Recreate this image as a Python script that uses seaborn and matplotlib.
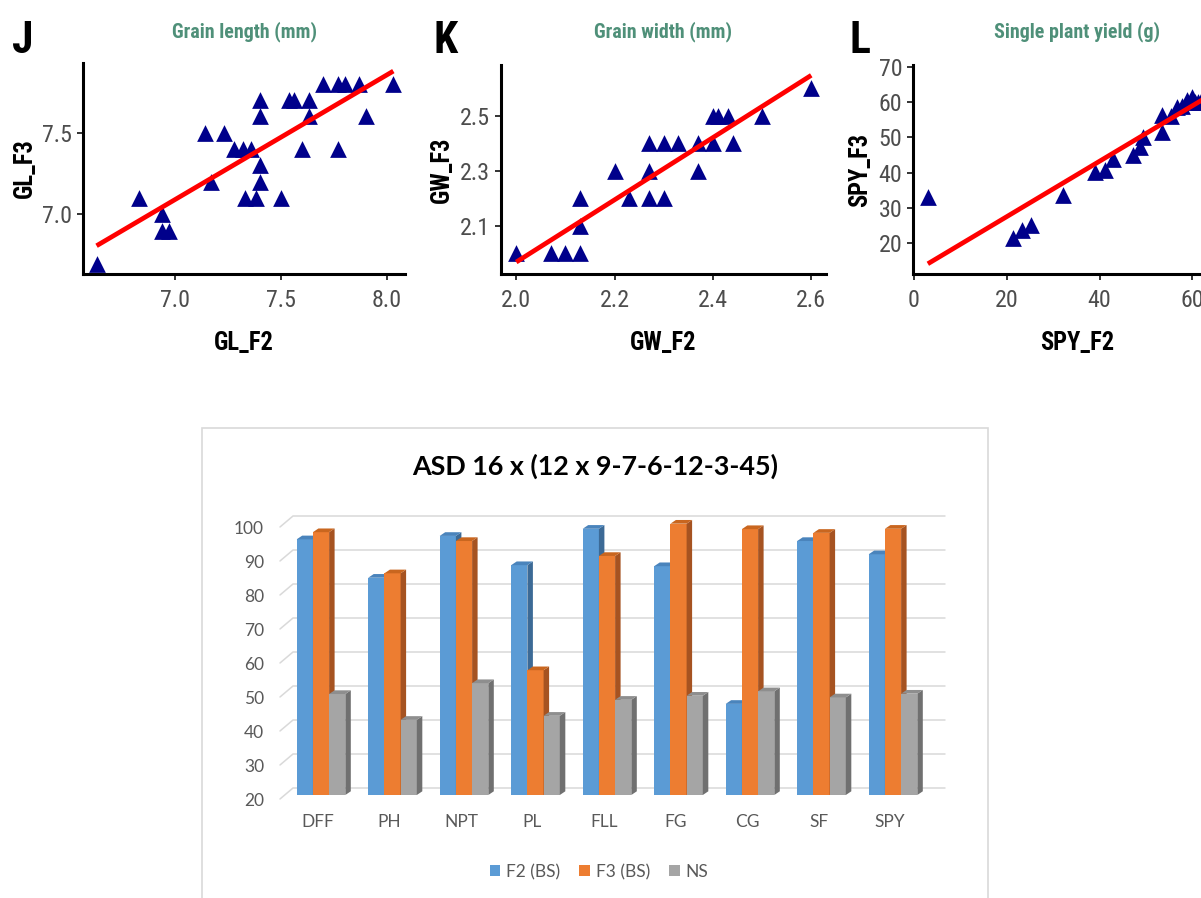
import numpy as np
import pandas as pd
import matplotlib
matplotlib.use("Agg")
import matplotlib.pyplot as plt
import seaborn as sns
from matplotlib import font_manager
from matplotlib.patches import Polygon, Rectangle
from matplotlib.transforms import ScaledTranslation

# ---------------- data ----------------
gl_f2 = [6.63, 6.83, 6.94, 6.94, 6.97, 7.14, 7.23, 7.17, 7.28, 7.32, 7.36, 7.33, 7.38, 7.40, 7.40,
         7.40, 7.40, 7.50, 7.54, 7.56, 7.63, 7.63, 7.60, 7.70, 7.77, 7.80, 7.87, 7.90, 7.77, 8.03]
gl_f3 = [6.7, 7.1, 7.0, 6.9, 6.9, 7.5, 7.5, 7.2, 7.4, 7.4, 7.4, 7.1, 7.1, 7.7, 7.6,
         7.3, 7.2, 7.1, 7.7, 7.7, 7.7, 7.6, 7.4, 7.8, 7.8, 7.8, 7.8, 7.6, 7.4, 7.8]

gw_f2 = [2.00, 2.07, 2.10, 2.13, 2.13, 2.13, 2.20, 2.23, 2.27, 2.27, 2.27, 2.30, 2.30, 2.33,
         2.37, 2.37, 2.40, 2.41, 2.43, 2.40, 2.44, 2.50, 2.60]
gw_f3 = [2.0, 2.0, 2.0, 2.0, 2.2, 2.1, 2.3, 2.2, 2.3, 2.4, 2.2, 2.4, 2.2, 2.4,
         2.4, 2.3, 2.5, 2.5, 2.5, 2.4, 2.4, 2.5, 2.6]

spy_f2 = [3.0, 21.4, 23.2, 25.3, 32.2, 39.0, 41.2, 43.0, 47.3, 48.7, 49.4, 53.4, 53.4, 55.5,
          56.6, 57.7, 58.8, 59.9, 60.6, 61.3, 63.0, 64.5, 66.0, 67.5]
spy_f3 = [33.0, 21.4, 23.8, 25.2, 33.7, 40.3, 40.8, 44.0, 45.0, 47.4, 50.2, 51.6, 56.3, 56.0,
          58.7, 59.0, 60.6, 61.5, 60.0, 60.0, 63.2, 64.4, 65.6, 66.8]

gl_xticks = [7.0, 7.5, 8.0]
gl_xlabels = ["7.0", "7.5", "8.0"]
gl_yticks = [7.0, 7.5]
gl_ylabels = ["7.0", "7.5"]
gw_xticks = [2.0, 2.2, 2.4, 2.6]
gw_xlabels = ["2.0", "2.2", "2.4", "2.6"]
gw_yticks = [2.1, 2.3, 2.5]
gw_ylabels = ["2.1", "2.3", "2.5"]
spy_xticks = [0, 20, 40, 60]
spy_xlabels = ["0", "20", "40", "60"]
spy_yticks = [20, 30, 40, 50, 60, 70]
spy_ylabels = ["20", "30", "40", "50", "60", "70"]

traits = ["DFF", "PH", "NPT", "PL", "FLL", "FG", "CG", "SF", "SPY"]
f2_bs = [95.2, 83.9, 96.2, 87.6, 98.3, 87.3, 46.8, 94.7, 90.8]
f3_bs = [97.3, 85.2, 94.7, 56.7, 90.3, 99.8, 98.2, 97.1, 98.3]
ns = [49.7, 42.1, 52.9, 43.3, 48.0, 49.2, 50.5, 48.7, 49.8]
series_names = ["F2 (BS)", "F3 (BS)", "NS"]
bar_yticks = [20, 30, 40, 50, 60, 70, 80, 90, 100]
bar_title = "ASD 16 x (12 x 9-7-6-12-3-45)"

# ---------------- fonts ----------------
sns.set_style("white")
entries = font_manager.fontManager.ttflist
names = {f.name for f in entries}
NARROW, STRETCH, CONDENSED = None, "normal", False
for c in ["Liberation Sans Narrow", "Arial Narrow", "Roboto Condensed", "Open Sans Condensed",
          "Noto Sans Condensed", "DejaVu Sans Condensed"]:
    if c in names:
        NARROW, CONDENSED = c, True
        break
if NARROW is None:
    for fam in ["Noto Sans", "Open Sans", "Roboto", "DejaVu Sans"]:
        if any(f.name == fam and str(f.stretch) in ("condensed", "semi-condensed", "extra-condensed")
               for f in entries):
            NARROW, STRETCH, CONDENSED = fam, "condensed", True
            break
if NARROW is None:
    NARROW = "Liberation Sans"
plt.rcParams["font.family"] = [NARROW, "DejaVu Sans"]
plt.rcParams["font.stretch"] = STRETCH
EXCEL = ["Lato", "DejaVu Sans"]

W, H = 1201, 898
fig = plt.figure(figsize=(W / 100, H / 100), dpi=100)
fig.patch.set_facecolor("white")
renderer = fig.canvas.get_renderer()


def fit_size(s, target_px, weight="normal", family=None, stretch=None):
    t = fig.text(0, 0, s, fontsize=20, fontweight=weight,
                 family=family if family else [NARROW, "DejaVu Sans"],
                 fontstretch=stretch if stretch else STRETCH)
    w = t.get_window_extent(renderer).width
    t.remove()
    size = 20.0 * target_px / w
    return size


boost = 1.0 if CONDENSED else 1.08
TICK_FS = fit_size("7.5", 30) * boost
TITLE_FS = fit_size("Grain length (mm)", 145, "bold")
LAB_FS = fit_size("GL_F2", 60, "bold") * boost
LET_FS = fit_size("K", 22, "bold") * boost * 1.1


def px_axes(l, t, r, b):
    return fig.add_axes([l / W, 1 - b / H, (r - l) / W, (b - t) / H])


GREEN = "#4F9079"
panels = [
    dict(x=gl_f2, y=gl_f3, box=(83, 63, 405, 274), xlim=(6.566, 8.085), ylim=(6.636, 7.926),
         xt=gl_xticks, xtl=gl_xlabels, yt=gl_yticks, ytl=gl_ylabels,
         title="Grain length (mm)", xlab="GL_F2", ylab="GL_F3", letter="J", lx=12, ylx=25),
    dict(x=gw_f2, y=gw_f3, box=(501, 65, 826, 274), xlim=(1.969, 2.63), ylim=(1.925, 2.685),
         xt=gw_xticks, xtl=gw_xlabels, yt=gw_yticks, ytl=gw_ylabels,
         title="Grain width (mm)", xlab="GW_F2", ylab="GW_F3", letter="K", lx=433, ylx=442),
    dict(x=spy_f2, y=spy_f3, box=(913, 65, 1242, 274), xlim=(-0.2, 70.7), ylim=(11.3, 70.5),
         xt=spy_xticks, xtl=spy_xlabels, yt=spy_yticks, ytl=spy_ylabels,
         title="Single plant yield (g)", xlab="SPY_F2", ylab="SPY_F3", letter="L", lx=850, ylx=860),
]

for p in panels:
    l, t, r, b = p["box"]
    ax = px_axes(l, t, r, b)
    ax.set_facecolor("none")
    sns.regplot(x=np.array(p["x"]), y=np.array(p["y"]), ax=ax, ci=None, marker="^",
                scatter_kws=dict(s=145, color="#00008B", linewidths=0, alpha=1),
                line_kws=dict(color="#FF0000", lw=3.4, solid_capstyle="butt"))
    ax.set_xlim(*p["xlim"])
    ax.set_ylim(*p["ylim"])
    ax.set_xticks(p["xt"], p["xtl"])
    ax.set_yticks(p["yt"], p["ytl"])
    ax.set_xlabel("")
    ax.set_ylabel("")
    for s in ["top", "right"]:
        ax.spines[s].set_visible(False)
    for s in ["left", "bottom"]:
        ax.spines[s].set_visible(True)
        ax.spines[s].set_color("black")
        ax.spines[s].set_linewidth(2.2)
    ax.tick_params(axis="both", which="major", length=4.3, width=1.4, color="#333333",
                   labelcolor="#4D4D4D", labelsize=TICK_FS, left=True, bottom=True)
    ax.tick_params(axis="x", pad=6.5)
    ax.tick_params(axis="y", pad=3.5)
    for lab in ax.get_xticklabels() + ax.get_yticklabels():
        lab.set_fontstretch(STRETCH)
    cx = (l + r) / 2
    fig.text(cx / W, 1 - 37 / H, p["title"], ha="center", va="baseline",
             fontsize=TITLE_FS, fontweight="bold", color=GREEN, fontstretch=STRETCH)
    fig.text(cx / W, 1 - 350 / H, p["xlab"], ha="center", va="baseline",
             fontsize=LAB_FS, fontweight="bold", color="black", fontstretch=STRETCH)
    fig.text(p["ylx"] / W, 1 - ((t + b) / 2) / H, p["ylab"], ha="center", va="center",
             rotation=90, fontsize=LAB_FS, fontweight="bold", color="black", fontstretch=STRETCH)
    fig.text(p["lx"] / W, 1 - 53 / H, p["letter"], ha="left", va="baseline",
             fontsize=LET_FS, fontweight="bold", color="black", fontstretch=STRETCH)

# ---------------- 3D-style clustered column chart ----------------
BL, BR, BT, BB = 280, 933, 795 - 80 * 3.4, 795
ax2 = px_axes(BL, BT, BR, BB)
ax2.set_facecolor("none")

df = pd.DataFrame({
    "trait": traits * 3,
    "value": f2_bs + f3_bs + ns,
    "series": [series_names[0]] * len(traits) + [series_names[1]] * len(traits)
              + [series_names[2]] * len(traits),
})
front = ["#5B9BD5", "#ED7D31", "#A5A5A5"]
side = ["#3C6A96", "#A65321", "#707070"]
topc = ["#4A84BC", "#C9661F", "#8E8E8E"]

sns.barplot(data=df, x="trait", y="value", hue="series", palette=front, saturation=1,
            width=0.68, errorbar=None, ax=ax2, linewidth=0, legend=True)

x0lim = -(321 - BL) / 71.5
x1lim = x0lim + (BR - BL) / 71.5
ax2.set_xlim(x0lim, x1lim)
ax2.set_ylim(20, 100)
ppx = (BR - BL) / (x1lim - x0lim)
ppy = (BB - BT) / 80.0

dxp, dyp = 5.5, 3.7
ddx, ddy = dxp / ppx, dyp / ppy
for i, cont in enumerate(ax2.containers):
    for patch in cont:
        patch.set_zorder(2 + i)
        xa = patch.get_x()
        xb = xa + patch.get_width()
        base = max(patch.get_y(), 20)
        top = patch.get_y() + patch.get_height()
        side_poly = Polygon([(xb, base), (xb, top), (xb + ddx, top + ddy), (xb + ddx, base + ddy)],
                            closed=True, facecolor=side[i], edgecolor="none",
                            zorder=2 + i + 0.5, clip_on=False)
        top_poly = Polygon([(xa, top), (xb, top), (xb + ddx, top + ddy), (xa + ddx, top + ddy)],
                           closed=True, facecolor=topc[i], edgecolor="none",
                           zorder=2 + i + 0.5, clip_on=False)
        ax2.add_patch(side_poly)
        ax2.add_patch(top_poly)

# back-wall gridlines with perspective
gx_front = x0lim
gx_back = x0lim + 13 / ppx
gx_end = x0lim + (945 - BL) / ppx
for v in bar_yticks:
    yf = v - 4 / ppy
    yb = v + 7 / ppy
    ax2.plot([gx_front, gx_back, gx_end], [yf, yb, yb], color="#D9D9D9", lw=1.1,
             zorder=0.5, clip_on=False, solid_joinstyle="miter")

ax2.set_yticks(bar_yticks, [str(v) for v in bar_yticks])
for s in ax2.spines.values():
    s.set_visible(False)
ax2.set_xlabel("")
ax2.set_ylabel("")
ax2.tick_params(axis="y", length=0, pad=11.5, labelsize=12.5, labelcolor="#595959")
ax2.tick_params(axis="x", length=0, pad=13.5, labelsize=12.5, labelcolor="#595959")
for lab in ax2.get_yticklabels():
    lab.set_family(EXCEL)
    lab.set_fontstretch("normal")
    lab.set_transform(lab.get_transform() + ScaledTranslation(0, -4 / 100, fig.dpi_scale_trans))
for lab in ax2.get_xticklabels():
    lab.set_family(EXCEL)
    lab.set_fontstretch("normal")
    lab.set_transform(lab.get_transform() + ScaledTranslation(-3 / 100, 0, fig.dpi_scale_trans))

handles, labels = ax2.get_legend_handles_labels()
if ax2.get_legend() is not None:
    ax2.get_legend().remove()
leg = fig.legend(handles, labels, loc="center", bbox_to_anchor=(599 / W, 1 - 872 / H), ncol=3,
                 frameon=False, prop=dict(family=EXCEL, size=12.5), handlelength=0.6,
                 handleheight=0.6, handletextpad=0.35, columnspacing=1.1)
for txt in leg.get_texts():
    txt.set_color("#595959")

fig.text(595 / W, 1 - 466 / H, bar_title, ha="center", va="center",
         fontsize=fit_size(bar_title, 366, "bold", EXCEL, "normal"),
         fontweight="bold", family=EXCEL, color="black", fontstretch="normal")

fig.patches.append(Rectangle((202 / W, 1 - 905 / H), (988 - 202) / W, (905 - 428) / H,
                             transform=fig.transFigure, fill=False, edgecolor="#D9D9D9",
                             lw=1.2, zorder=0))

fig.savefig("out.png", dpi=100, facecolor="white")
